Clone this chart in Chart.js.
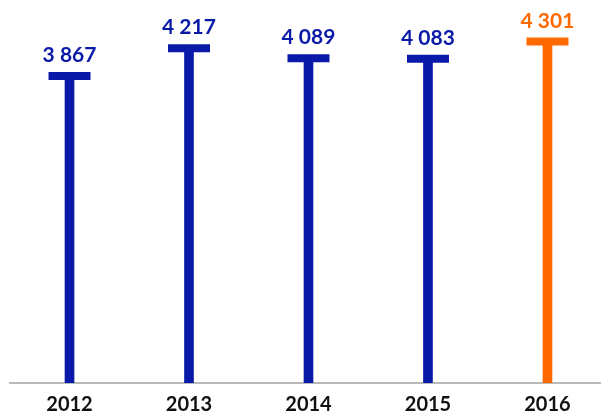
<!DOCTYPE html>
<html>
<head>
<meta charset="utf-8">
<script src="https://cdn.jsdelivr.net/npm/chart.js@4.4.1/dist/chart.umd.min.js"></script>
<style>
  html, body { margin: 0; padding: 0; background: #fff; overflow: hidden; }
  #wrap { width: 601px; height: 412px; position: relative; }
</style>
</head>
<body>
<div id="wrap"><canvas id="chart"></canvas></div>
<script>
// Data
const years = ['2012', '2013', '2014', '2015', '2016'];
const values = [3867, 4217, 4089, 4083, 4301];
const barColors = ['#0a1aa8', '#0a1aa8', '#0a1aa8', '#0a1aa8', '#ff6a00'];

const fmt = (v) => String(v).replace(/\B(?=(\d{3})+(?!\d))/g, ' ');

// value labels above each cap
const valueLabels = {
  id: 'valueLabels',
  afterDatasetsDraw(chart) {
    const ctx = chart.ctx;
    const meta = chart.getDatasetMeta(1);
    ctx.save();
    ctx.font = 'bold 21px Lato, "Open Sans", sans-serif';
    ctx.textAlign = 'center';
    ctx.textBaseline = 'alphabetic';
    meta.data.forEach((pt, i) => {
      ctx.fillStyle = barColors[i];
      ctx.fillText(fmt(values[i]), pt.x, pt.y - 14);
    });
    ctx.restore();
  }
};

const points = values.map((v, i) => ({ x: i, y: v }));

new Chart(document.getElementById('chart'), {
  type: 'bar',
  data: {
    datasets: [
      {
        // stems
        data: points,
        backgroundColor: barColors,
        barThickness: 9,
        grouped: false,
        order: 2
      },
      {
        // T caps
        type: 'line',
        data: points,
        showLine: false,
        pointStyle: 'line',
        pointRadius: 21,
        pointHoverRadius: 21,
        pointBorderWidth: 8,
        pointHoverBorderWidth: 8,
        borderColor: barColors,
        pointBorderColor: barColors,
        order: 1
      }
    ]
  },
  options: {
    responsive: true,
    maintainAspectRatio: false,
    animation: false,
    layout: { autoPadding: false, padding: { left: 10, right: 0, top: 0, bottom: 0 } },
    plugins: {
      legend: { display: false },
      tooltip: { enabled: false }
    },
    scales: {
      x: {
        type: 'linear',
        offset: false,
        min: -0.498,
        max: 4.448,
        grid: { display: false, offset: false },
        border: { display: true, color: '#b9b9b9', width: 2 },
        afterFit: (scale) => { scale.height = 29; },
        ticks: {
          stepSize: 1,
          includeBounds: false,
          autoSkip: false,
          maxRotation: 0,
          padding: 2,
          color: '#111',
          font: { family: 'Lato, "Open Sans", sans-serif', size: 20, weight: 'bold' },
          callback: (v) => years[v] ?? ''
        }
      },
      y: {
        display: false,
        min: 0,
        max: 4824
      }
    }
  },
  plugins: [valueLabels]
});
</script>
</body>
</html>
